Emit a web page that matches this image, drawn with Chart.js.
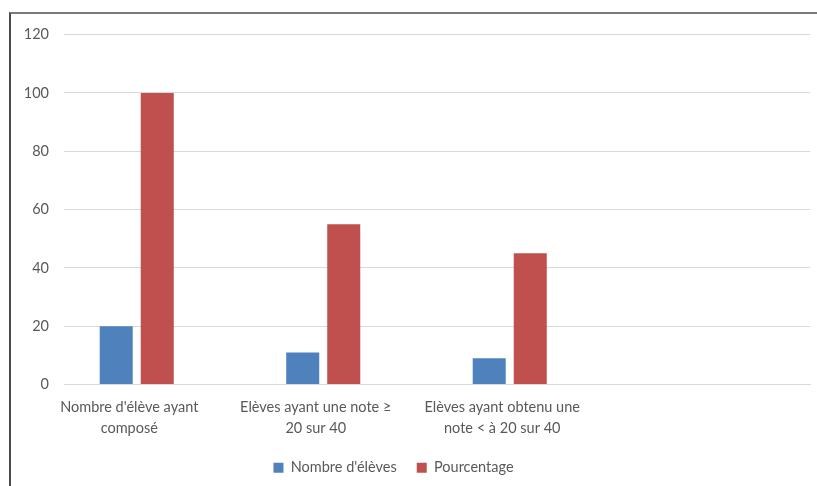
<!DOCTYPE html>
<html>
<head>
<meta charset="utf-8">
<script src="https://cdn.jsdelivr.net/npm/chart.js"></script>
<style>
  html, body { margin: 0; padding: 0; background: #fff; overflow: hidden; }
  body { width: 817px; height: 486px; position: relative; }
  .frame { position: absolute; left: 9px; top: 12px; width: 820px; height: 500px;
           border-left: 2px solid #4a4a4a; border-top: 2px solid #7a7a7a; }
  .wrap { position: absolute; left: 11px; top: 11px; width: 806px; height: 484px; }
</style>
</head>
<body>
<div class="frame"></div>
<div class="wrap"><canvas id="c" width="806" height="484"></canvas></div>
<script>
// categories (4th slot is empty in the original)
const categories = [
  ["Nombre d'élève ayant", "composé"],
  ["Elèves ayant une note ≥", "20 sur 40"],
  ["Elèves ayant obtenu une", "note < à 20 sur 40"],
  ""
];
const nombreEleves = [20, 11, 9, null];
const pourcentage = [100, 55, 45, null];
const spacer = [null, null, null, null]; // empty third series, keeps the slot
const yTicks = [0, 20, 40, 60, 80, 100, 120];

const FONT = "Lato, 'Open Sans', sans-serif";
const GREY = "#595959";

// move the legend left and up like in the picture
const legendShift = {
  id: "legendShift",
  afterLayout(chart) {
    const lg = chart.legend;
    lg.left -= 17; lg.right -= 17;
    lg.top -= 10; lg.bottom -= 10;
  }
};

new Chart(document.getElementById("c"), {
  type: "bar",
  data: {
    labels: categories,
    datasets: [
      { label: "Nombre d'élèves", data: nombreEleves, backgroundColor: "#4f81bd" },
      { label: "Pourcentage", data: pourcentage, backgroundColor: "#c0504d" },
      { label: "", data: spacer, backgroundColor: "transparent" }
    ]
  },
  plugins: [legendShift],
  options: {
    responsive: false,
    animation: false,
    devicePixelRatio: 1,
    categoryPercentage: 0.66,
    barPercentage: 0.805,
    layout: { padding: { left: 0, right: 7, top: 7, bottom: 0 } },
    plugins: {
      tooltip: { enabled: false },
      legend: {
        position: "bottom",
        labels: {
          filter: (item) => item.text !== "",
          boxWidth: 10, boxHeight: 10, padding: 20,
          color: GREY, font: { family: FONT, size: 14.5 }
        }
      }
    },
    scales: {
      x: {
        grid: { display: false, drawTicks: false },
        border: { display: true, color: "#d9d9d9", width: 1 },
        ticks: {
          color: GREY, padding: 12, labelOffset: -28, maxRotation: 0, autoSkip: false,
          font: { family: FONT, size: 14.5, lineHeight: 1.45 }
        }
      },
      y: {
        min: 0, max: 120,
        afterBuildTicks: (s) => { s.ticks = yTicks.map(v => ({ value: v })); },
        afterFit: (s) => { s.width = 53; },
        grid: { color: "#d9d9d9", drawTicks: false },
        border: { display: false },
        ticks: { color: GREY, padding: 15, font: { family: FONT, size: 14.5 } }
      }
    }
  }
});
</script>
</body>
</html>
